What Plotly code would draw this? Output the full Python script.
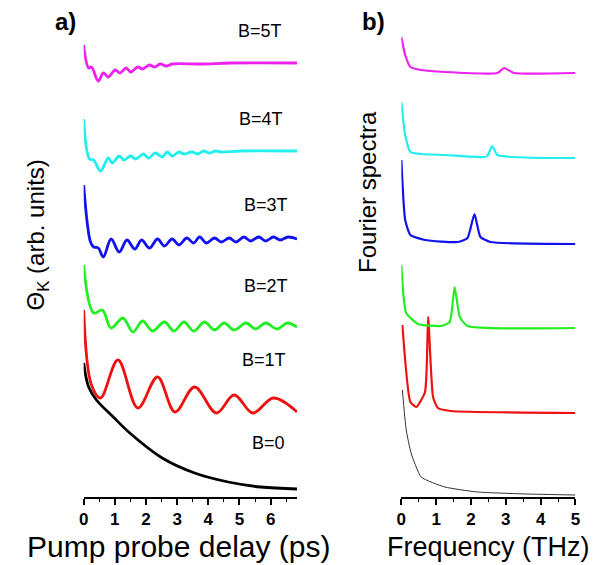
import plotly.graph_objects as go

# ---------------- data ----------------
# Panel a) : Kerr rotation vs pump-probe delay (ps); heights in arb. units (offset stacked)
t_B0 = [0, 0.16, 0.41, 0.95, 1.48, 2.52, 3.56, 4.64, 5.68, 6.85]
k_B0 = [134, 110, 97, 80, 64, 39, 24, 15, 10, 8]

t_B1 = [0, 0.25, 0.54, 1.10, 1.74, 2.37, 2.93, 3.56, 4.26, 4.83, 5.43, 6.09, 6.85]
k_B1 = [187, 112, 99, 137, 89, 120, 85, 110, 84, 102, 84, 99, 85]

t_B2 = [0, 0.32, 0.60, 0.88, 1.26, 1.58, 1.89, 2.21, 2.59, 2.90, 3.22, 3.53, 3.88,
        4.20, 4.51, 4.83, 5.21, 5.52, 5.84, 6.21, 6.53, 6.85]
k_B2 = [232, 184, 187, 169, 179, 165, 176, 166, 175, 166, 175, 166, 175,
        167, 174, 167, 174, 168, 174, 168, 174, 170]

t_B3 = [0, 0.22, 0.32, 0.47, 0.63, 0.88, 1.14, 1.39, 1.64, 1.86, 2.11, 2.37, 2.59, 2.84,
        3.06, 3.31, 3.53, 3.72, 3.94, 4.20, 4.42, 4.67, 4.89, 5.14, 5.36, 5.62, 5.84,
        6.09, 6.31, 6.56, 6.85]
k_B3 = [312, 255, 250, 249, 240, 258, 245, 257, 248, 257, 249, 258, 251, 258,
        252, 259, 254, 260, 254, 259, 255, 259, 255, 260, 256, 260, 256,
        260, 257, 260, 258]

t_B4 = [0, 0.19, 0.32, 0.54, 0.79, 0.91, 1.14, 1.29, 1.51, 1.67, 1.92, 2.08, 2.30, 2.52,
        2.68, 2.84, 3.06, 3.22, 3.47, 3.66, 3.85, 4.04, 4.23, 4.42, 5.05, 6.85]
k_B4 = [378, 338, 337, 326, 339, 334, 341, 337, 341, 338, 343, 339, 344, 340,
        345, 341, 345, 343, 345, 343, 346, 344, 346, 345, 346, 346]

t_B5 = [0, 0.16, 0.25, 0.47, 0.63, 0.79, 1.01, 1.17, 1.36, 1.51, 1.74, 1.89, 2.11, 2.27,
        2.46, 2.65, 2.84, 3.79, 4.73, 6.85]
k_B5 = [452, 429, 430, 416, 424, 420, 427, 424, 429, 425, 430, 428, 432, 430,
        433, 431, 433, 433, 434, 434]

# Panel b) : Fourier spectra vs frequency (THz); heights in arb. units (offset stacked)
f_B0 = [0.03, 0.14, 0.28, 0.57, 1.25, 2.19, 3.61, 5.0]
s_B0 = [107, 67, 44, 20, 10, 5, 3, 2]

f_B1 = [0.03, 0.26, 0.43, 0.68, 0.77, 0.91, 1.05, 1.42, 5.0]
s_B1 = [172, 95, 90, 105, 180, 100, 89, 86, 84]

f_B2 = [0, 0.14, 0.48, 1.14, 1.39, 1.53, 1.68, 1.90, 5.0]
s_B2 = [232, 184, 173, 171, 175, 210, 180, 171, 169]

f_B3 = [0, 0.11, 0.26, 0.68, 1.62, 1.90, 2.10, 2.27, 2.56, 5.0]
s_B3 = [337, 277, 262, 257, 255, 259, 283, 260, 255, 253]

f_B4 = [0, 0.11, 0.26, 0.57, 1.25, 2.39, 2.47, 2.61, 2.76, 5.0]
s_B4 = [395, 362, 345, 343, 342, 340, 341, 351, 342, 339]

f_B5 = [0, 0.11, 0.26, 0.57, 1.25, 2.76, 2.95, 3.24, 5.0]
s_B5 = [460, 442, 430, 427, 425, 424, 429, 424, 424]

labels = ["B=0", "B=1T", "B=2T", "B=3T", "B=4T", "B=5T"]
colors = ["#000000", "#ee1111", "#22ee22", "#1111ee", "#22eeee", "#ee22ee"]

time_series = [(t_B0, k_B0), (t_B1, k_B1), (t_B2, k_B2), (t_B3, k_B3), (t_B4, k_B4), (t_B5, k_B5)]
spec_series = [(f_B0, s_B0), (f_B1, s_B1), (f_B2, s_B2), (f_B3, s_B3), (f_B4, s_B4), (f_B5, s_B5)]

# ---------------- figure ----------------
W, H = 606, 565
FONT = "Liberation Sans, Arial, sans-serif"

fig = go.Figure()
for (t, k), c, lab in zip(time_series, colors, labels):
    fig.add_trace(go.Scatter(x=t, y=k, mode="lines", name=lab, xaxis="x", yaxis="y",
                             line=dict(color=c, width=2.8, shape="spline", smoothing=1.0)))
for i, ((f, s), c, lab) in enumerate(zip(spec_series, colors, labels)):
    fig.add_trace(go.Scatter(x=f, y=s, mode="lines", name=lab, xaxis="x2", yaxis="y2",
                             line=dict(color="#333333" if i == 0 else c,
                                       width=1.0 if i == 0 else 2.2,
                                       shape="spline", smoothing=0.5)))

y_bottom = (H - 497) / H

xcommon = dict(showline=True, linecolor="black", linewidth=1.5, ticks="outside",
               ticklen=6, tickwidth=1.5, tickcolor="black", showgrid=False, zeroline=False,
               tickfont=dict(family=FONT, size=17, color="black", weight="bold"),
               minor=dict(ticks="outside", ticklen=3, tickwidth=1.2, tickcolor="black", dtick=0.5),
               dtick=1, tick0=0, fixedrange=True)

fig.update_layout(
    width=W, height=H, autosize=False,
    margin=dict(l=0, r=0, t=0, b=0),
    paper_bgcolor="white", plot_bgcolor="white",
    showlegend=False,
    xaxis=dict(domain=[80 / W, 297 / W], range=[0, 6.85], anchor="y", **xcommon),
    xaxis2=dict(domain=[403 / W, 580 / W], range=[0, 5.0], anchor="y2", **xcommon),
    yaxis=dict(domain=[y_bottom, 1], range=[0, 497], visible=False, fixedrange=True),
    yaxis2=dict(domain=[y_bottom, 1], range=[0, 497], visible=False, fixedrange=True),
)


def px(x, y):
    return x / W, 1 - y / H


annos = []
# B labels (panel a)
for lab, (x, y) in zip(labels, [(268, 443), (263, 360), (265, 286), (265, 205), (260, 119), (259, 31)]):
    xp, yp = px(x, y)
    annos.append(dict(text=lab, x=xp, y=yp, xref="paper", yref="paper", showarrow=False,
                      xanchor="center", yanchor="middle",
                      font=dict(family=FONT, size=18, color="black")))
# panel letters
for lab, (x, y) in [("a)", (62, 21)), ("b)", (375, 22))]:
    xp, yp = px(x, y)
    annos.append(dict(text=lab, x=xp, y=yp, xref="paper", yref="paper", showarrow=False,
                      xanchor="center", yanchor="middle",
                      font=dict(family=FONT, size=24, color="black", weight="bold")))
# axis titles
xp, yp = px(177, 546)
annos.append(dict(text="Pump probe delay (ps)", x=xp, y=yp, xref="paper", yref="paper",
                  showarrow=False, xanchor="center", yanchor="middle",
                  font=dict(family=FONT, size=30, color="black")))
xp, yp = px(492, 547)
annos.append(dict(text="Frequency (THz)", x=xp, y=yp, xref="paper", yref="paper",
                  showarrow=False, xanchor="center", yanchor="middle",
                  font=dict(family=FONT, size=27, color="black")))
xp, yp = px(33, 235)
annos.append(dict(text="\u0398<sub>K</sub> (arb. units)", x=xp, y=yp, xref="paper", yref="paper",
                  showarrow=False, xanchor="center", yanchor="middle", textangle=-90,
                  font=dict(family=FONT, size=24, color="black")))
xp, yp = px(368, 192)
annos.append(dict(text="Fourier spectra", x=xp, y=yp, xref="paper", yref="paper",
                  showarrow=False, xanchor="center", yanchor="middle", textangle=-90,
                  font=dict(family=FONT, size=24, color="black")))

fig.update_layout(annotations=annos)

fig.write_html("out.html", config={"displayModeBar": False},
               post_script="document.body.style.margin='0';document.body.style.overflow='hidden';")
